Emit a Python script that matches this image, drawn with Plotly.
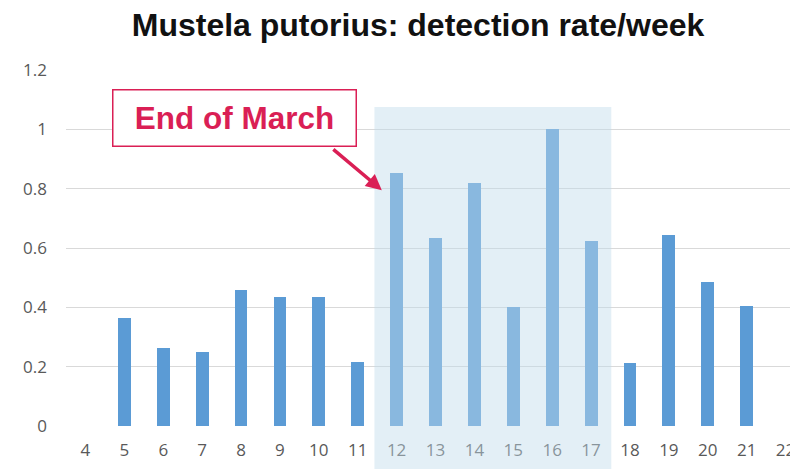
import plotly.graph_objects as go

weeks = list(range(4, 23))
rates = [None, 0.364, 0.262, 0.249, 0.46, 0.434, 0.434, 0.215,
         0.852, 0.633, 0.82, 0.40, 1.0, 0.622,
         0.212, 0.643, 0.484, 0.406, None]
tick_vals_y = [0, 0.2, 0.4, 0.6, 0.8, 1, 1.2]
tick_text_y = ["0", "0.2", "0.4", "0.6", "0.8", "1", "1.2"]
highlight_weeks = (11.43, 17.52)
highlight_top = 1.075
annot_text = "End of March"
annot_target = (11.62, 0.795)

# the page body has an 8px default margin; size the figure to fit the window
OFF = 8
W, H = 798 - OFF, 469 - OFF
Y_MAX = 1.2
M_L, M_T, M_B = 66 - OFF, 70 - OFF, 43
plot_h = H - M_T - M_B

bar_color = "#5B9BD5"
crimson = "#DA1F55"

fig = go.Figure()
fig.add_trace(go.Bar(x=weeks, y=rates, width=0.33, marker_color=bar_color,
                     marker_line_width=0, showlegend=False))

fig.add_shape(type="rect", xref="x", yref="paper",
              x0=highlight_weeks[0], x1=highlight_weeks[1],
              y0=-M_B / plot_h, y1=highlight_top / Y_MAX,
              fillcolor="#C2DCEC", opacity=0.45, line_width=0, layer="above")

fig.add_annotation(x=7.84, y=1.038, xref="x", yref="y", text="<b>%s</b>" % annot_text,
                   showarrow=False, font=dict(family="Liberation Sans, Arial", size=31.5, color=crimson),
                   bordercolor=crimson, borderwidth=1.5, borderpad=0, bgcolor="white",
                   width=242, height=55, align="center", valign="middle")
fig.add_annotation(x=annot_target[0], y=annot_target[1], xref="x", yref="y", text="",
                   showarrow=True, ax=-50, ay=-42, arrowcolor=crimson, arrowwidth=3.5,
                   arrowhead=2, arrowsize=0.9, standoff=0)

fig.update_layout(
    width=W, height=H,
    margin=dict(l=M_L, r=0, t=M_T, b=M_B, autoexpand=False),
    paper_bgcolor="white", plot_bgcolor="white",
    title=dict(text="<b>Mustela putorius: detection rate/week</b>",
               x=410 / W, xanchor="center", y=1 - 16.5 / H, yanchor="middle", yref="container",
               font=dict(family="Liberation Sans, Arial", size=32, color="#111111")),
    bargap=0,
    xaxis=dict(range=[3.5, 22.32], tickmode="array", tickvals=weeks, automargin=False,
               ticktext=[str(w) for w in weeks], showgrid=False, zeroline=False,
               showline=False, ticks="", ticklabelstandoff=12,
               tickfont=dict(family="Open Sans", size=17, color="#595959")),
    yaxis=dict(range=[0, Y_MAX], tickmode="array", tickvals=tick_vals_y, ticktext=tick_text_y,
               automargin=False,
               showgrid=True, gridcolor="#D9D9D9", gridwidth=1, zeroline=False,
               showline=False, ticks="", ticklabelstandoff=18,
               tickfont=dict(family="Open Sans", size=17, color="#595959")),
)

fig.write_html("out.html")
